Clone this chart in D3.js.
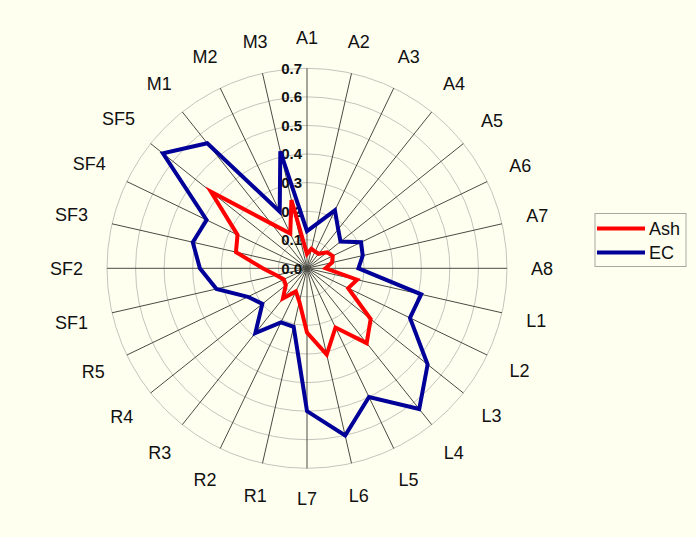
<!DOCTYPE html>
<html><head><meta charset="utf-8">
<script src="https://cdn.jsdelivr.net/npm/d3@7"></script>
<style>
html,body{margin:0;padding:0;background:#fffff0;}
svg{display:block;}
</style>
</head><body>
<svg id="chart" width="696" height="537"></svg>
<script>
const categories = ["A1","A2","A3","A4","A5","A6","A7","A8","L1","L2","L3","L4","L5","L6","L7","R1","R2","R3","R4","R5","SF1","SF2","SF3","SF4","SF5","M1","M2","M3"];
const ashValues = [0.05,0.07,0.065,0.065,0.09,0.10,0.09,0.065,0.18,0.16,0.285,0.335,0.23,0.31,0.225,0.12,0.09,0.135,0.095,0.09,0.11,0.155,0.255,0.27,0.43,0.20,0.135,0.245];
const ecValues = [0.13,0.16,0.225,0.175,0.15,0.21,0.20,0.18,0.41,0.40,0.54,0.63,0.50,0.60,0.50,0.21,0.21,0.29,0.20,0.23,0.325,0.375,0.41,0.39,0.645,0.56,0.22,0.42];
const tickValues = [0,0.1,0.2,0.3,0.4,0.5,0.6,0.7];
const tickLabels = ["0.0","0.1","0.2","0.3","0.4","0.5","0.6","0.7"];
const seriesNames = ["Ash","EC"];
const seriesColors = ["#ff0000","#000099"];

const svg = d3.select("#chart");
const W = 696, H = 537;
svg.append("rect").attr("width",W).attr("height",H).attr("fill","#fffff0");

const cx = 307, cy = 268.3;
const rScale = d3.scaleLinear().domain([0,0.7]).range([0,200]);
const aScale = d3.scaleLinear().domain([0,categories.length]).range([0,2*Math.PI]);

const g = svg.append("g").attr("transform",`translate(${cx},${cy})`);

// grid rings
g.selectAll("circle.ring").data(tickValues.slice(1)).enter().append("circle")
  .attr("class","ring").attr("r",d=>rScale(d))
  .attr("fill","none").attr("stroke","#c4c4bc").attr("stroke-width",1);

// spokes
g.selectAll("line.spoke").data(categories).enter().append("line")
  .attr("x1",0).attr("y1",0)
  .attr("x2",(d,i)=>rScale(0.7)*Math.sin(aScale(i)))
  .attr("y2",(d,i)=>-rScale(0.7)*Math.cos(aScale(i)))
  .attr("stroke","#4a4a44").attr("stroke-width",1);

// tick labels
g.selectAll("text.tick").data(tickValues).enter().append("text")
  .attr("x",-5).attr("y",d=>-rScale(d))
  .attr("dy","0.36em")
  .attr("text-anchor","end")
  .attr("font-family","Liberation Sans, Arial, sans-serif")
  .attr("font-weight","bold").attr("font-size",15)
  .attr("fill","#111")
  .text((d,i)=>tickLabels[i]);

// category labels
const pad = 24;
const labels = g.selectAll("text.cat").data(categories).enter().append("text")
  .attr("font-family","Liberation Sans, Arial, sans-serif")
  .attr("font-size",18).attr("fill","#111")
  .attr("text-anchor","middle").attr("dy","0.36em")
  .text(d=>d);
labels.each(function(d,i){
  const w = this.getComputedTextLength();
  const hh = 6.5;
  const a = aScale(i);
  const s = Math.sin(a), c = Math.cos(a);
  const dist = rScale(0.7) + pad + (w/2)*Math.abs(s) + hh*Math.abs(c);
  d3.select(this).attr("x", dist*s).attr("y", -dist*c);
});

// series
const line = d3.lineRadial()
  .angle((d,i)=>aScale(i))
  .radius(d=>rScale(d))
  .curve(d3.curveLinearClosed);
[ashValues, ecValues].forEach((vals,k)=>{
  g.append("path").datum(vals)
    .attr("d",line)
    .attr("fill","none")
    .attr("stroke",seriesColors[k])
    .attr("stroke-width",4)
    .attr("stroke-linejoin","miter");
});

// legend
const lg = svg.append("g");
lg.append("rect").attr("x",595).attr("y",213.5).attr("width",91).attr("height",53)
  .attr("fill","#fffff0").attr("stroke","#a8a8a0").attr("stroke-width",1);
seriesNames.forEach((n,k)=>{
  const y = 228.5 + k*24;
  lg.append("line").attr("x1",597).attr("x2",645).attr("y1",y).attr("y2",y)
    .attr("stroke",seriesColors[k]).attr("stroke-width",4);
  lg.append("text").attr("x",649).attr("y",y).attr("dy","0.36em")
    .attr("font-family","Liberation Sans, Arial, sans-serif")
    .attr("font-size",18).attr("fill","#111").text(n);
});
</script>
</body></html>
